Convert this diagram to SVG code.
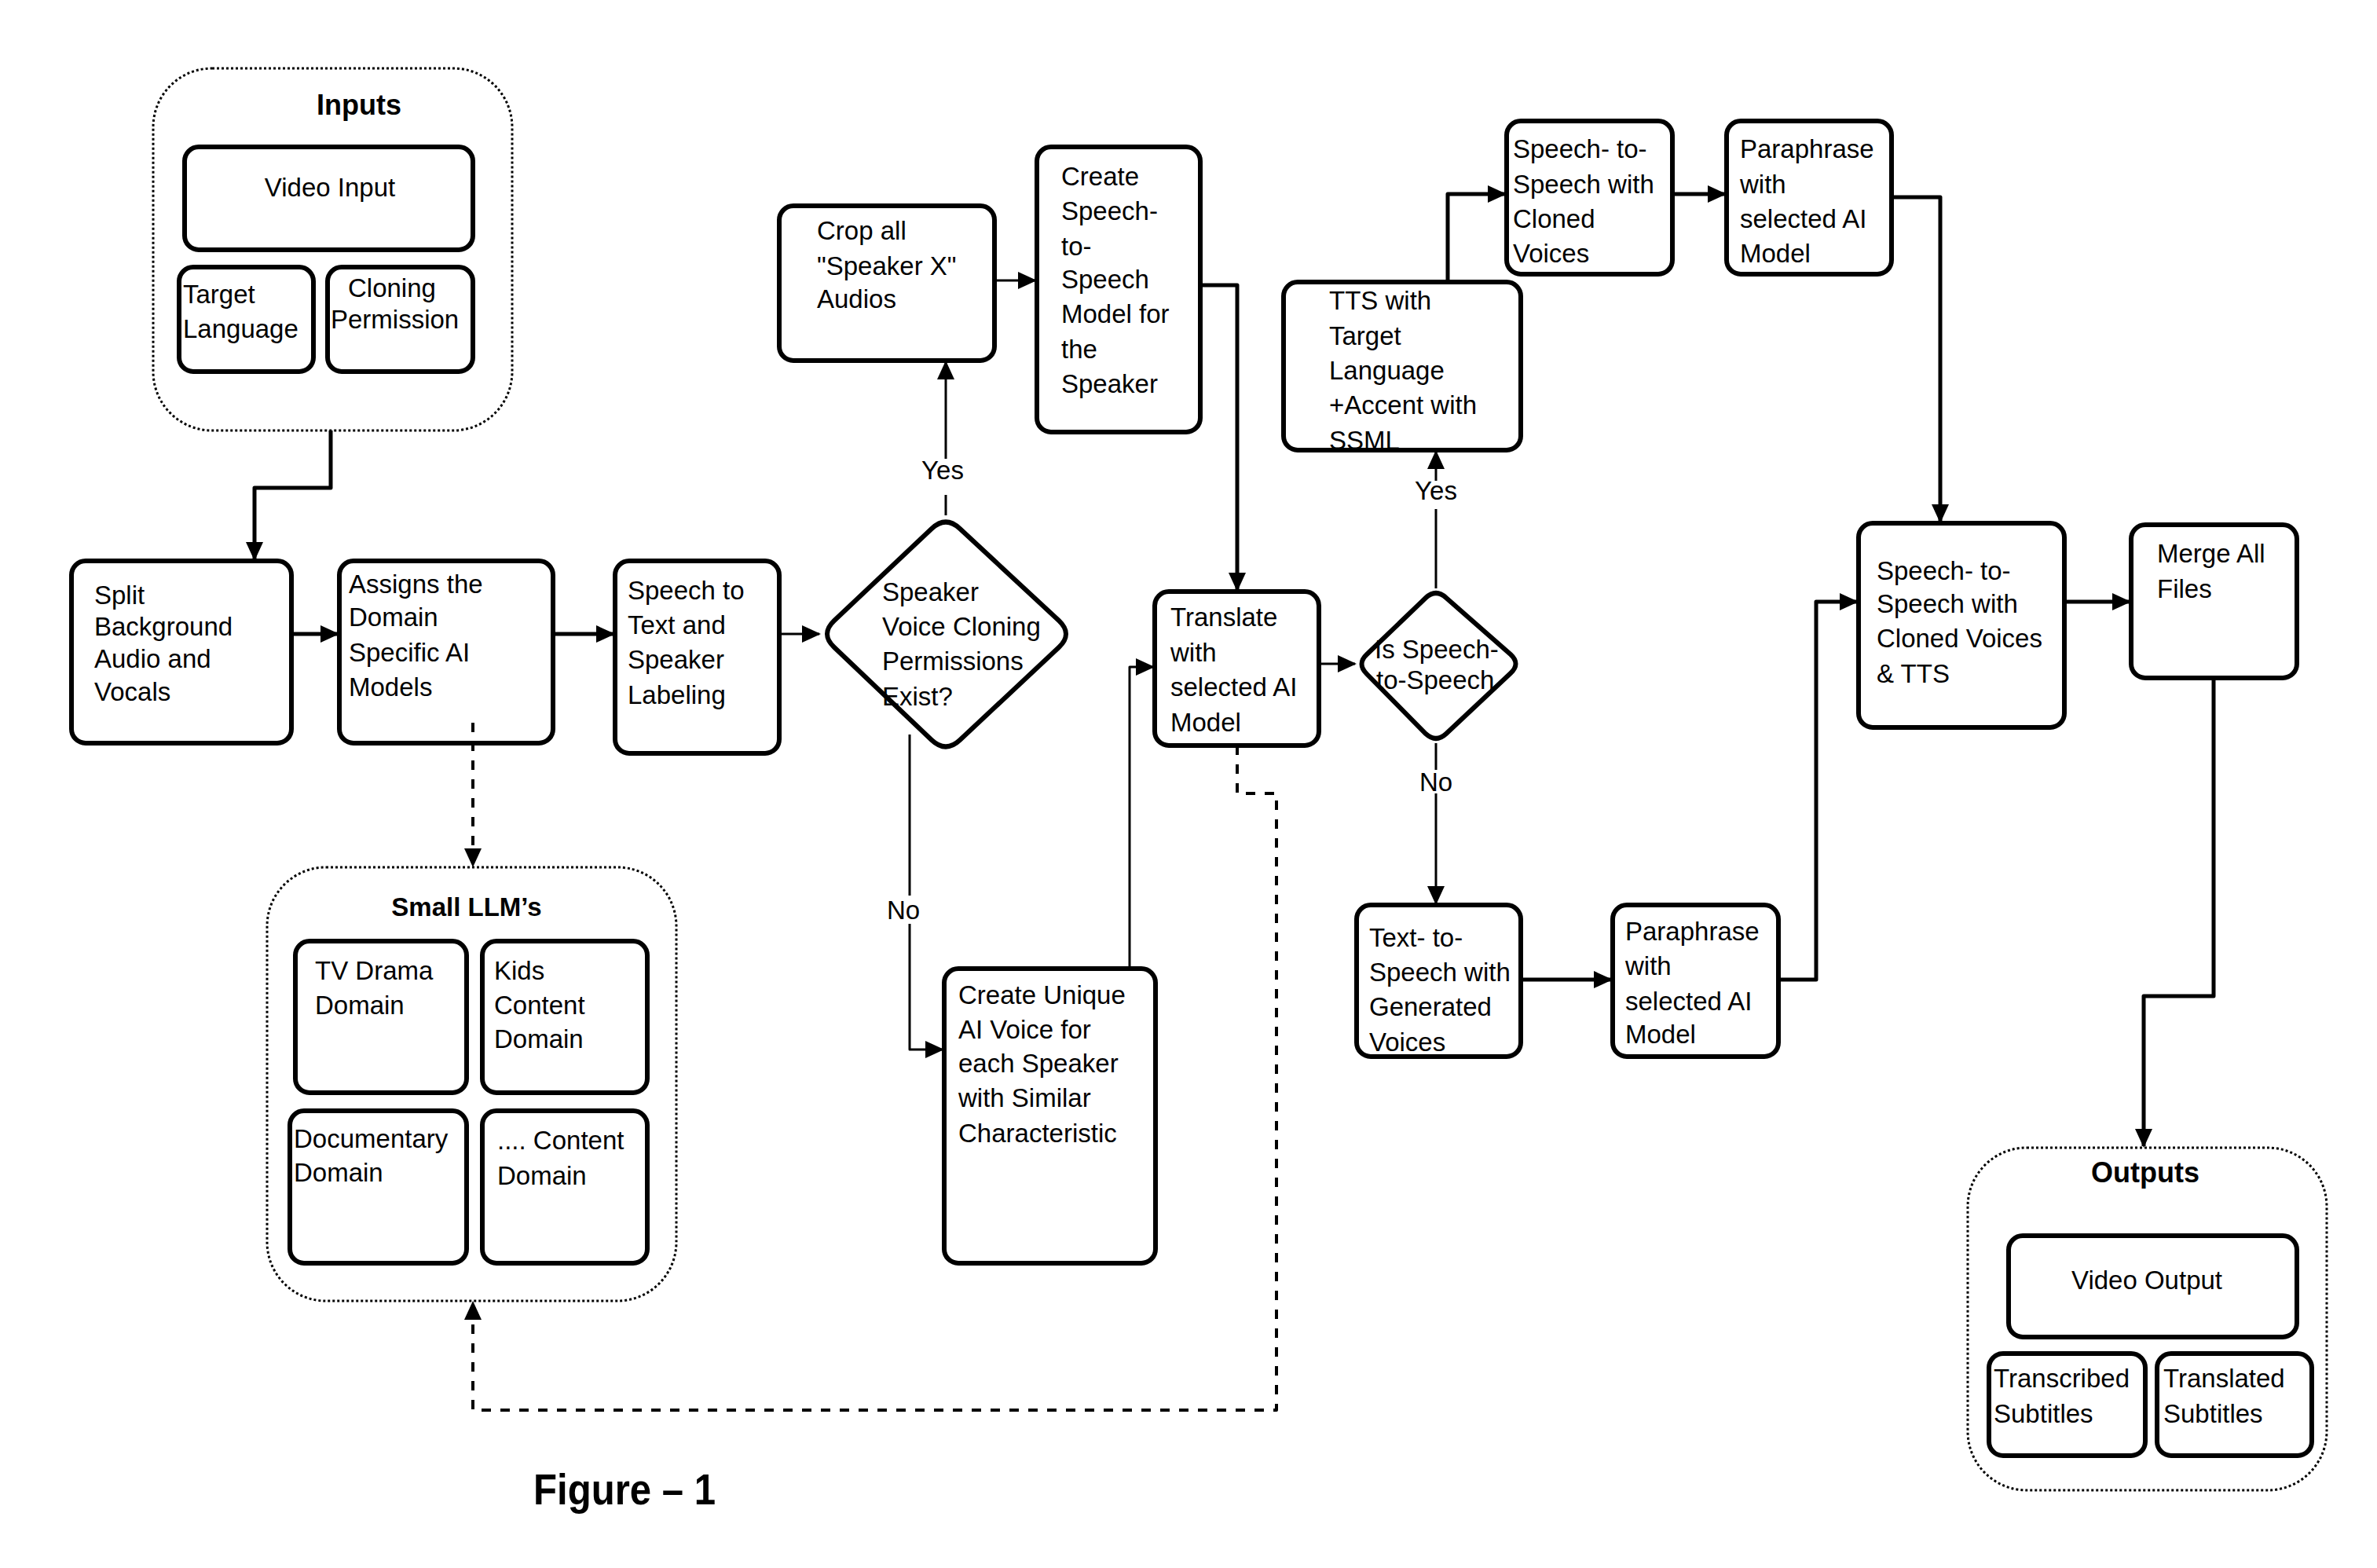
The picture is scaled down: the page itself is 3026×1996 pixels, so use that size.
<svg xmlns="http://www.w3.org/2000/svg" width="3026" height="1996" viewBox="0 0 3026 1996">
<defs>
<style>
.box{fill:#fff;stroke:#000;stroke-width:6}
.cont{fill:#fff;stroke:#000;stroke-width:3;stroke-dasharray:3 3}
.t{font-family:"Liberation Sans",Arial,sans-serif;font-size:33px;fill:#000}
.b{font-weight:bold;font-size:36px}
.c{fill:none;stroke:#000;stroke-width:5;stroke-linejoin:round}
.thin{stroke-width:3}
.dash{stroke-width:4;stroke-dasharray:12 12}
.lbl{font-family:"Liberation Sans",Arial,sans-serif;font-size:33px;fill:#000;text-anchor:middle}
</style>
<marker id="ah" markerUnits="userSpaceOnUse" markerWidth="24" markerHeight="22" refX="22" refY="11" orient="auto">
<path d="M0,0 L24,11 L0,22 z" fill="#000"/>
</marker>
</defs>
<rect width="3026" height="1996" fill="#fff"/>

<g id="inputs">
<rect class="cont" x="195" y="87" width="457" height="461" rx="75"/>
<text class="t b" x="457" y="146" text-anchor="middle">Inputs</text>
<rect class="box" x="235" y="187" width="367" height="131" rx="18"/>
<text class="t" x="420" y="250" text-anchor="middle">Video Input</text>
<rect class="box" x="228" y="340" width="171" height="133" rx="18"/>
<text class="t" x="233" y="386">Target</text>
<text class="t" x="233" y="430">Language</text>
<rect class="box" x="417" y="340" width="185" height="133" rx="18"/>
<text class="t" x="443" y="378">Cloning</text>
<text class="t" x="421" y="418">Permission</text>
</g>

<g id="split">
<rect class="box" x="91" y="714" width="280" height="232" rx="18"/>
<text class="t" x="120" y="769">Split</text>
<text class="t" x="120" y="809">Background</text>
<text class="t" x="120" y="850">Audio and</text>
<text class="t" x="120" y="892">Vocals</text>
</g>

<g id="assigns">
<rect class="box" x="432" y="714" width="272" height="232" rx="18"/>
<text class="t" x="444" y="755">Assigns the</text>
<text class="t" x="444" y="797">Domain</text>
<text class="t" x="444" y="842">Specific AI</text>
<text class="t" x="444" y="886">Models</text>
</g>

<g id="stt">
<rect class="box" x="783" y="714" width="209" height="245" rx="18"/>
<text class="t" x="799" y="763">Speech to</text>
<text class="t" x="799" y="807">Text and</text>
<text class="t" x="799" y="851">Speaker</text>
<text class="t" x="799" y="896">Labeling</text>
</g>

<g id="permission-decision">
<path class="box" d="M1062,790 L1186,673 Q1204,656 1222,673 L1348,790 Q1366,807 1348,824 L1222,942 Q1204,959 1186,942 L1062,824 Q1044,807 1062,790 Z"/>
<text class="t" x="1123" y="765">Speaker</text>
<text class="t" x="1123" y="809">Voice Cloning</text>
<text class="t" x="1123" y="853">Permissions</text>
<text class="t" x="1123" y="898">Exist?</text>
</g>

<g id="crop">
<rect class="box" x="992" y="262" width="274" height="197" rx="18"/>
<text class="t" x="1040" y="305">Crop all</text>
<text class="t" x="1040" y="350">"Speaker X"</text>
<text class="t" x="1040" y="392">Audios</text>
</g>

<g id="create-sts">
<rect class="box" x="1320" y="187" width="208" height="363" rx="18"/>
<text class="t" x="1351" y="236">Create</text>
<text class="t" x="1351" y="280">Speech-</text>
<text class="t" x="1351" y="325">to-</text>
<text class="t" x="1351" y="367">Speech</text>
<text class="t" x="1351" y="411">Model for</text>
<text class="t" x="1351" y="456">the</text>
<text class="t" x="1351" y="500">Speaker</text>
</g>

<g id="create-unique">
<rect class="box" x="1202" y="1233" width="269" height="375" rx="18"/>
<text class="t" x="1220" y="1278">Create Unique</text>
<text class="t" x="1220" y="1322">AI Voice for</text>
<text class="t" x="1220" y="1365">each Speaker</text>
<text class="t" x="1220" y="1409">with Similar</text>
<text class="t" x="1220" y="1454">Characteristic</text>
</g>

<g id="translate">
<rect class="box" x="1470" y="753" width="209" height="196" rx="18"/>
<text class="t" x="1490" y="797">Translate</text>
<text class="t" x="1490" y="842">with</text>
<text class="t" x="1490" y="886">selected AI</text>
<text class="t" x="1490" y="931">Model</text>
</g>

<g id="sts-decision">
<path class="box" d="M1740,833 L1815,761 Q1828,749 1841,761 L1923,833 Q1936,845 1923,857 L1841,934 Q1828,946 1815,934 L1740,858 Q1727,845 1740,833 Z"/>
<text class="t" x="1750" y="838">Is Speech-</text>
<text class="t" x="1752" y="877">to-Speech</text>
</g>

<g id="tts-target">
<rect class="box" x="1634" y="359" width="302" height="214" rx="18"/>
<text class="t" x="1692" y="394">TTS with</text>
<text class="t" x="1692" y="439">Target</text>
<text class="t" x="1692" y="483">Language</text>
<text class="t" x="1692" y="527">+Accent with</text>
<text class="t" x="1692" y="572">SSML</text>
</g>

<g id="sts-cloned">
<rect class="box" x="1918" y="154" width="211" height="195" rx="18"/>
<text class="t" x="1926" y="201">Speech- to-</text>
<text class="t" x="1926" y="246">Speech with</text>
<text class="t" x="1926" y="290">Cloned</text>
<text class="t" x="1926" y="334">Voices</text>
</g>

<g id="paraphrase-top">
<rect class="box" x="2198" y="154" width="210" height="195" rx="18"/>
<text class="t" x="2215" y="201">Paraphrase</text>
<text class="t" x="2215" y="246">with</text>
<text class="t" x="2215" y="290">selected AI</text>
<text class="t" x="2215" y="334">Model</text>
</g>

<g id="sts-tts">
<rect class="box" x="2366" y="666" width="262" height="260" rx="18"/>
<text class="t" x="2389" y="738">Speech- to-</text>
<text class="t" x="2389" y="780">Speech with</text>
<text class="t" x="2389" y="824">Cloned Voices</text>
<text class="t" x="2389" y="869">&amp; TTS</text>
</g>

<g id="merge">
<rect class="box" x="2713" y="668" width="211" height="195" rx="18"/>
<text class="t" x="2746" y="716">Merge All</text>
<text class="t" x="2746" y="761">Files</text>
</g>

<g id="tts-generated">
<rect class="box" x="1727" y="1152" width="209" height="193" rx="18"/>
<text class="t" x="1743" y="1205">Text- to-</text>
<text class="t" x="1743" y="1249">Speech with</text>
<text class="t" x="1743" y="1293">Generated</text>
<text class="t" x="1743" y="1338">Voices</text>
</g>

<g id="paraphrase-bottom">
<rect class="box" x="2053" y="1152" width="211" height="193" rx="18"/>
<text class="t" x="2069" y="1197">Paraphrase</text>
<text class="t" x="2069" y="1241">with</text>
<text class="t" x="2069" y="1286">selected AI</text>
<text class="t" x="2069" y="1328">Model</text>
</g>

<g id="small-llms">
<rect class="cont" x="340" y="1104" width="521" height="552" rx="75"/>
<text class="t" x="594" y="1166" text-anchor="middle" font-weight="bold">Small LLM’s</text>
<rect class="box" x="376" y="1198" width="218" height="193" rx="18"/>
<text class="t" x="401" y="1247">TV Drama</text>
<text class="t" x="401" y="1291">Domain</text>
<rect class="box" x="614" y="1198" width="210" height="193" rx="18"/>
<text class="t" x="629" y="1247">Kids</text>
<text class="t" x="629" y="1291">Content</text>
<text class="t" x="629" y="1334">Domain</text>
<rect class="box" x="369" y="1414" width="225" height="194" rx="18"/>
<text class="t" x="374" y="1461">Documentary</text>
<text class="t" x="374" y="1504">Domain</text>
<rect class="box" x="614" y="1414" width="210" height="194" rx="18"/>
<text class="t" x="633" y="1463">.... Content</text>
<text class="t" x="633" y="1508">Domain</text>
</g>

<g id="outputs">
<rect class="cont" x="2505" y="1461" width="457" height="436" rx="75"/>
<text class="t b" x="2731" y="1505" text-anchor="middle">Outputs</text>
<rect class="box" x="2557" y="1573" width="367" height="129" rx="18"/>
<text class="t" x="2733" y="1641" text-anchor="middle">Video Output</text>
<rect class="box" x="2532" y="1723" width="199" height="130" rx="18"/>
<text class="t" x="2538" y="1766">Transcribed</text>
<text class="t" x="2538" y="1811">Subtitles</text>
<rect class="box" x="2746" y="1723" width="197" height="130" rx="18"/>
<text class="t" x="2754" y="1766">Translated</text>
<text class="t" x="2754" y="1811">Subtitles</text>
</g>

<g id="connectors">
<path class="c" d="M421,548 V621 H324 V712" marker-end="url(#ah)"/>
<path class="c" d="M371,807 H430" marker-end="url(#ah)"/>
<path class="c" d="M704,807 H781" marker-end="url(#ah)"/>
<path class="c thin" d="M992,807 H1043" marker-end="url(#ah)"/>
<path class="c dash" d="M602,920 V1102" marker-end="url(#ah)"/>
<path class="c thin" d="M1204,656 V630"/>
<path class="c thin" d="M1204,584 V461" marker-end="url(#ah)"/>
<text class="lbl" x="1200" y="610">Yes</text>
<path class="c thin" d="M1266,357 H1318" marker-end="url(#ah)"/>
<path class="c" d="M1528,363 H1575 V751" marker-end="url(#ah)"/>
<path class="c thin" d="M1158,935 V1140"/>
<path class="c thin" d="M1158,1176 V1336 H1200" marker-end="url(#ah)"/>
<text class="lbl" x="1150" y="1170">No</text>
<path class="c thin" d="M1438,1233 V849 H1468" marker-end="url(#ah)"/>
<path class="c thin" d="M1679,845 H1725" marker-end="url(#ah)"/>
<path class="c dash" d="M1575,949 V1010 H1625 V1795 H602 V1658" marker-end="url(#ah)"/>
<path class="c thin" d="M1828,749 V648"/>
<path class="c thin" d="M1828,612 V575" marker-end="url(#ah)"/>
<text class="lbl" x="1828" y="636">Yes</text>
<path class="c" d="M1843,359 V247 H1916" marker-end="url(#ah)"/>
<path class="c" d="M2129,247 H2196" marker-end="url(#ah)"/>
<path class="c" d="M2408,251 H2470 V664" marker-end="url(#ah)"/>
<path class="c thin" d="M1828,946 V980"/>
<path class="c thin" d="M1828,1010 V1150" marker-end="url(#ah)"/>
<text class="lbl" x="1828" y="1007">No</text>
<path class="c" d="M1936,1247 H2051" marker-end="url(#ah)"/>
<path class="c" d="M2264,1247 H2312 V766 H2364" marker-end="url(#ah)"/>
<path class="c" d="M2628,766 H2711" marker-end="url(#ah)"/>
<path class="c" d="M2818,863 V1268 H2729 V1459" marker-end="url(#ah)"/>
</g>

<text x="679" y="1915" font-family="'Liberation Sans',Arial,sans-serif" font-weight="bold" font-size="56" textLength="232" lengthAdjust="spacingAndGlyphs">Figure – 1</text>
</svg>
